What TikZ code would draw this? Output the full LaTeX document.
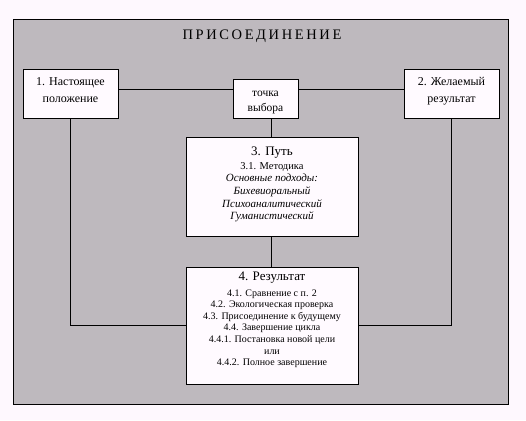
\documentclass[tikz,border=0pt]{standalone}
\usepackage{fontspec}
\setmainfont{Liberation Serif}
\newfontfamily\titlefont[LetterSpace=18]{Liberation Serif}
\definecolor{pagebg}{HTML}{FEF8FE}
\definecolor{panelgray}{HTML}{BEB9BE}
\definecolor{boxfill}{HTML}{FFFAFF}
\tikzset{
  panel/.style={draw=black, line width=1pt, fill=panelgray, inner sep=0pt},
  box/.style={draw=black, line width=1pt, fill=boxfill, inner sep=0pt, align=center},
  link/.style={draw=black, line width=1pt},
}
\begin{document}
\begin{tikzpicture}[x=1pt,y=-1pt]
\fill[pagebg] (0,0) rectangle (526,420);
\useasboundingbox (0,0) rectangle (526,420);
\node[panel, minimum width=495pt, minimum height=384pt] (panel) at (260.5,212) {};
\node[font=\titlefont\fontsize{14.5}{16}\selectfont] (title) at (262,36) {ПРИСОЕДИНЕНИЕ};
\node[box, minimum width=95pt, minimum height=49pt, font=\fontsize{12}{17}\selectfont] (b1) at (70.5,93.5)
  {1. Настоящее\\положение\rule[-7pt]{0pt}{1pt}};
\node[box, minimum width=65pt, minimum height=39pt, font=\fontsize{11.5}{15}\selectfont] (tv) at (265.5,98.5)
  {\rule{0pt}{14pt}точка\\выбора};
\node[box, minimum width=95pt, minimum height=49pt, font=\fontsize{12}{17}\selectfont] (b2) at (451.5,93.5)
  {2. Желаемый\\результат\rule[-7pt]{0pt}{1pt}};
\node[box, minimum width=172pt, minimum height=99pt, font=\fontsize{10.5}{12.7}\selectfont] (b3) at (272,186.5)
  {{\fontsize{13}{12.7}\selectfont 3. Путь}\\[0.5pt]
   3.1. Методика\\
   {\itshape\fontsize{11}{12.7}\selectfont Основные подходы:}\\
   {\itshape\fontsize{11}{12.7}\selectfont Бихевиоральный}\\
   {\itshape\fontsize{11}{12.7}\selectfont Психоаналитический}\\
   {\itshape\fontsize{11}{12.7}\selectfont Гуманистический}\rule[-6pt]{0pt}{1pt}};
\node[box, minimum width=172pt, minimum height=117pt, font=\fontsize{10}{11.6}\selectfont] (b4) at (272,325.5)
  {{\fontsize{13}{11.6}\selectfont 4. Результат}\\[3.5pt]
   4.1. Сравнение с п. 2\\
   4.2. Экологическая проверка\\
   4.3. Присоединение к будущему\\
   4.4. Завершение цикла\\
   4.4.1. Постановка новой цели\\
   или\\
   4.4.2. Полное завершение\rule[-13pt]{0pt}{1pt}};
\coordinate (hl) at (0,89);
\coordinate (vx) at (271,0);
\draw[link] (b1.east |- hl) -- (tv.west |- hl);
\draw[link] (tv.east |- hl) -- (b2.west |- hl);
\draw[link] (tv.south -| vx) -- (b3.north -| vx);
\draw[link] (b3.south -| vx) -- (b4.north -| vx);
\draw[link] (b1.south) |- (b4.west);
\draw[link] (b2.south) |- (b4.east);
\end{tikzpicture}
\end{document}
